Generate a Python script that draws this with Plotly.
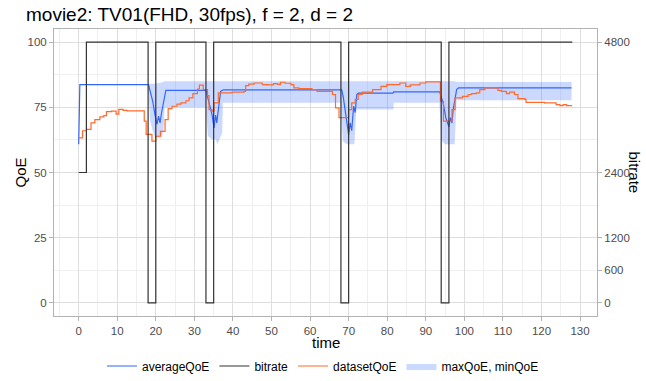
import plotly.graph_objects as go

# ---- data ----
avg_t = [0, 0.3, 18.1, 19.2, 19.8, 20.3, 20.7, 21.1, 21.5, 22.6, 33.0, 34.0, 34.6, 35.1, 35.5, 35.8, 36.2, 36.8, 37.5, 68.2,
         68.6, 69.3, 70.0, 70.4, 70.8, 71.3, 71.7, 72.1, 72.5, 81.5, 81.7, 93.6, 94.5, 95.2, 96.0, 96.4, 96.8, 97.1, 97.5,
         98.0, 98.5, 127.8]
avg_v = [60.8, 83.7, 83.7, 77.3, 72.0, 68.4, 71.6, 69.0, 73.0, 81.5, 81.5, 76.0, 72.0, 67.1, 72.0, 69.0, 75.0, 81.1, 81.7, 81.7,
         79.0, 72.0, 64.5, 69.0, 66.0, 75.4, 73.0, 79.9, 80.4, 80.4, 80.9, 80.9, 76.7, 71.0, 67.5, 71.0, 69.0, 74.0, 77.0,
         81.8, 82.4, 82.4]

ds_t = [0, 1, 2, 3.2, 4.2, 5.5, 6.5, 7.2, 8.5, 9.7, 10.4, 11.5, 12.5, 17.0, 17.5, 19.0, 20.0, 21.2, 22.4, 23.2, 24.2, 25.5,
        26.5, 27.8, 28.6, 29.6, 30.8, 31.3, 32.3, 33.4, 33.8, 34.6, 35.1, 36.2, 39.8, 42.9, 43.3, 44.1, 45.5, 47.6, 49.0,
        50.5, 51.5, 52.3, 53.5, 55.0, 55.8, 57.1, 60.5, 61.8, 65.8, 66.6, 67.5, 70.0, 70.8, 71.7, 72.5, 73.5, 76.2, 78.4,
        79.9, 83.3, 84.8, 86.0, 88.5, 90.0, 93.8, 94.6, 96.8, 97.6, 99.5, 101.0, 101.9, 103.1, 104.0, 105.3, 108.7, 109.6,
        110.9, 111.7, 113.0, 113.9, 115.7, 116.0, 120.8, 123.8, 124.8, 125.6, 126.5, 127.8]
ds_v = [63.3, 66.0, 66.5, 69.0, 70.3, 71.3, 71.8, 73.3, 73.5, 72.4, 74.2, 73.8, 73.6, 69.7, 64.6, 62.0, 63.9, 65.8, 70.3, 74.5,
        75.4, 76.2, 76.7, 77.5, 78.6, 80.2, 82.0, 83.5, 81.8, 79.5, 74.1, 73.5, 76.7, 80.5, 80.8, 81.1, 83.3, 83.9, 84.3, 83.7,
        83.6, 84.1, 83.8, 84.6, 84.2, 83.7, 82.4, 82.2, 81.8, 81.1, 79.9, 74.8, 71.0, 74.1, 76.7, 78.0, 79.9, 80.8, 81.8, 83.0,
        83.7, 84.3, 83.0, 83.6, 84.3, 84.7, 77.3, 69.7, 74.1, 78.6, 79.2, 79.9, 80.2, 80.5, 81.8, 82.4, 81.5, 81.1, 80.2, 80.8,
        79.9, 78.3, 78.0, 76.9, 76.7, 76.0, 75.6, 76.0, 75.6, 75.4]

band_t = [18.0, 18.5, 19.2, 19.8, 21.5, 22.0, 22.3, 33.0, 33.5, 34.5, 35.5, 36.0, 36.5, 37.2, 37.4, 68.0, 68.5, 69.5, 71.5,
          72.0, 81.6, 81.7, 93.5, 94.2, 95.0, 97.5, 98.0, 127.8]
band_max = [83.7, 84.0, 84.0, 84.0, 84.5, 85.0, 85.0, 85.0, 85.0, 85.0, 85.0, 85.0, 85.0, 85.0, 85.0, 85.0, 85.0, 85.0, 85.0,
            85.0, 85.0, 85.0, 85.0, 85.0, 85.0, 85.0, 84.7, 84.7]
band_min = [83.7, 70.0, 66.0, 63.4, 63.4, 66.0, 75.0, 75.0, 64.0, 62.7, 62.7, 60.8, 62.7, 65.0, 76.7, 76.7, 62.0, 60.8, 60.8,
            74.1, 74.1, 76.7, 76.7, 62.0, 60.8, 60.8, 77.7, 77.7]

br_t = [0, 2, 18, 20, 33, 35, 68, 70, 94, 96, 128]
br_v = [2400, 4800, 0, 4800, 0, 4800, 0, 4800, 0, 4800, 4800]

x_ticks = list(range(0, 131, 10))
y_ticks = [0, 25, 50, 75, 100]
br_ticks = [0, 600, 1200, 2400, 4800]
scale = 48.0  # bitrate per QoE unit

BLUE = "#3366FF"
ORANGE = "#FF6A2B"
BLACK = "#333333"
FONT = "Liberation Sans, Arial, sans-serif"

fig = go.Figure()
fig.add_trace(go.Scatter(x=band_t, y=band_min, mode="lines", line=dict(width=0, color=BLUE),
                         showlegend=False, hoverinfo="skip"))
fig.add_trace(go.Scatter(x=band_t, y=band_max, mode="lines", line=dict(width=0, color=BLUE),
                         fill="tonexty", fillcolor="rgba(51,102,255,0.25)", name="maxQoE, minQoE", legendrank=4))
fig.add_trace(go.Scatter(x=br_t, y=br_v, mode="lines", line=dict(color=BLACK, width=1.2, shape="hv"),
                         name="bitrate", yaxis="y2", legendrank=2))
fig.add_trace(go.Scatter(x=avg_t, y=avg_v, mode="lines", line=dict(color=BLUE, width=1.2),
                         name="averageQoE", legendrank=1))
fig.add_trace(go.Scatter(x=ds_t, y=ds_v, mode="lines", line=dict(color=ORANGE, width=1.2, shape="hv"),
                         name="datasetQoE", legendrank=3))

grid_major = "#DEDEDE"
grid_minor = "#EFEFEF"
axis_line = "#B3B3B3"
tick_font = dict(family=FONT, size=11.5, color="#4D4D4D")

fig.update_layout(
    width=646, height=381,
    margin=dict(l=54, r=49, t=29, b=65, autoexpand=False),
    paper_bgcolor="white", plot_bgcolor="white",
    font=dict(family=FONT, color="black"),
    title=dict(text="movie2: TV01(FHD, 30fps), f = 2, d = 2", x=26/646, xref="container", xanchor="left",
               y=1 - 14/381, yref="container", yanchor="middle",
               font=dict(size=19, color="black")),
    xaxis=dict(range=[-6.4, 134.4], tickvals=x_ticks, showgrid=True, gridcolor=grid_major, gridwidth=1,
               minor=dict(dtick=5, tick0=0, showgrid=True, gridcolor=grid_minor, gridwidth=0.6),
               zeroline=False, showline=True, mirror=True, linecolor=axis_line, linewidth=1,
               ticks="outside", ticklen=4, tickcolor=axis_line, tickfont=tick_font),
    yaxis=dict(range=[-5, 105], tickvals=y_ticks, showgrid=True, gridcolor=grid_major, gridwidth=1,
               minor=dict(dtick=12.5, tick0=0, showgrid=True, gridcolor=grid_minor, gridwidth=0.6),
               zeroline=False, showline=True, mirror=True, linecolor=axis_line, linewidth=1,
               ticks="outside", ticklen=4, tickcolor=axis_line, tickfont=tick_font),
    yaxis2=dict(range=[-5*scale, 105*scale], tickvals=br_ticks, overlaying="y", side="right",
                showgrid=False, zeroline=False, showline=False,
                ticks="outside", ticklen=4, tickcolor=axis_line, tickfont=tick_font),
    legend=dict(orientation="h", x=0.5, xref="container", xanchor="center", y=1 - 366/381, yref="container",
                yanchor="middle", font=dict(size=12, color="black"), traceorder="normal", itemwidth=30),
    showlegend=True,
    annotations=[
        dict(text="QoE", xref="paper", yref="paper", x=(20 - 54) / 543, y=0.5, textangle=-90, showarrow=False,
             font=dict(size=15, color="black"), xanchor="center", yanchor="middle"),
        dict(text="bitrate", xref="paper", yref="paper", x=(634 - 54) / 543, y=0.5, textangle=90, showarrow=False,
             font=dict(size=15, color="black"), xanchor="center", yanchor="middle"),
        dict(text="time", xref="paper", yref="paper", x=0.5, y=(316 - 342) / 287, showarrow=False,
             font=dict(size=15, color="black"), xanchor="center", yanchor="middle"),
    ],
)

fig.write_html("out.html")
